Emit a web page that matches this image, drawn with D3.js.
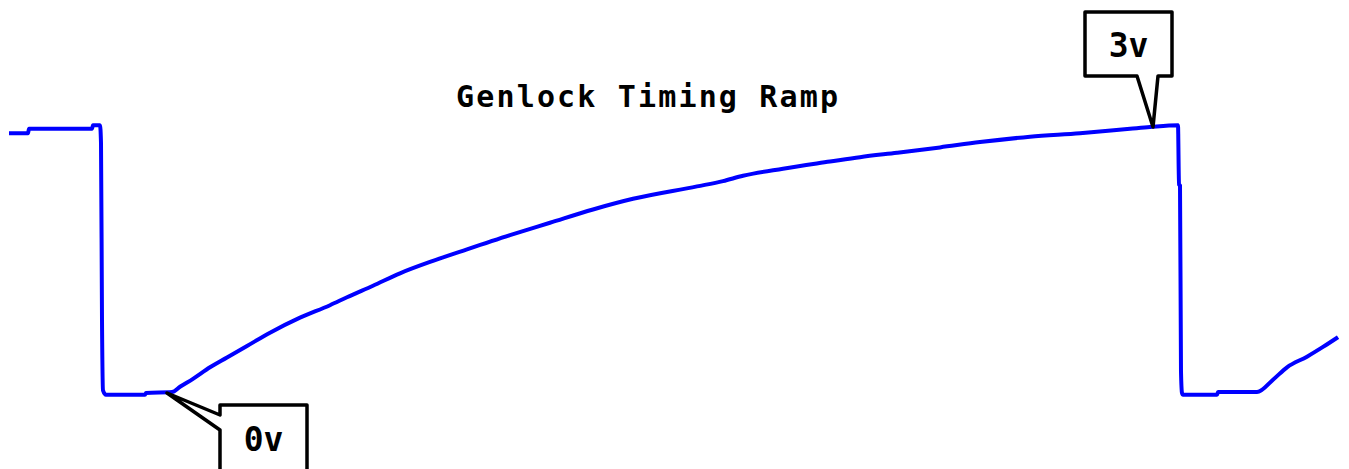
<!doctype html>
<head>
  <meta charset="utf-8">
  <script src="https://cdnjs.cloudflare.com/ajax/libs/d3/7.8.2/d3.min.js"></script>
</head>
<style>
    html, body { margin: 0; padding: 0; background: #ffffff; overflow: hidden; }
    text { font-family: "DejaVu Sans Mono", "Liberation Mono", monospace; font-weight: bold; }
</style>
<body>
    <div id="chart"></div>
    <script>
        // Trace samples (sample index along the sweep) and level in volts
        const sampleTimes = [
            0, 19, 20, 83, 84, 91, 92, 93, 94, 97, 136, 137, 163,
            171, 184, 201, 218, 238, 261, 291, 321, 338, 364, 391, 424, 458, 501,
            541, 584, 624, 688, 714, 734, 774, 821, 851, 888, 931, 971, 1021, 1071,
            1121, 1141, 1169, 1170, 1171, 1172, 1173, 1174, 1208, 1209, 1248,
            1264, 1278, 1298, 1314, 1329
        ];
        const sampleVolts = [
            2.93, 2.93, 2.98, 2.98, 3.02, 3.02, 2.82, 0.82, 0.03, -0.02, -0.02, 0.0, 0.01,
            0.07, 0.16, 0.29, 0.40, 0.53, 0.68, 0.85, 0.99, 1.08, 1.21, 1.35, 1.49, 1.62, 1.78,
            1.92, 2.07, 2.19, 2.33, 2.39, 2.45, 2.53, 2.61, 2.66, 2.71, 2.77, 2.83, 2.89, 2.93,
            2.98, 3.00, 3.02, 2.35, 2.34, 0.24, 0.0, -0.02, -0.02, 0.01, 0.01,
            0.15, 0.29, 0.41, 0.52, 0.63
        ];

        // Callouts: label, sample index and voltage they point to
        const calloutLabels = ['0v', '3v'];
        const calloutTimes = [158, 1144];
        const calloutVolts = [0.0, 3.0];

        const title = 'Genlock Timing Ramp';

        const width = 1349;
        const height = 469;

        const svg = d3.select('#chart')
            .append('svg')
            .attr('width', width)
            .attr('height', height);

        const x = d3.scaleLinear().domain([0, 1330]).range([9, 1339]);
        const y = d3.scaleLinear().domain([0, 3]).range([393, 127]);

        const data = sampleTimes.map((t, i) => ({ t: t, v: sampleVolts[i] }));

        // Scope trace
        const line = d3.line()
            .curve(d3.curveMonotoneX)
            .x((d) => x(d.t))
            .y((d) => y(d.v));

        svg.append('path')
            .datum(data)
            .attr('d', line)
            .attr('fill', 'none')
            .attr('stroke', '#0000ff')
            .attr('stroke-width', 4)
            .attr('stroke-linejoin', 'miter');

        // Title
        svg.append('text')
            .attr('x', 647)
            .attr('y', 107)
            .attr('text-anchor', 'middle')
            .attr('font-size', 30)
            .attr('textLength', 382)
            .attr('lengthAdjust', 'spacing')
            .attr('fill', '#000')
            .text(title);

        // Callout boxes with a pointer to the trace
        const callouts = calloutLabels.map((label, i) => ({
            label: label,
            px: x(calloutTimes[i]),
            py: y(calloutVolts[i])
        }));

        // 0v : box below right, pointer from its left side
        const c0 = callouts[0];
        const b0 = { x: c0.px + 53, y: c0.py + 12, w: 87, h: 70 };
        svg.append('path')
            .attr('d', `M${b0.x},${b0.y} H${b0.x + b0.w} V${b0.y + b0.h} H${b0.x} V${b0.y + 25}
                        L${c0.px},${c0.py} L${b0.x},${b0.y + 10} Z`)
            .attr('fill', '#fff')
            .attr('stroke', '#000')
            .attr('stroke-width', 3.5)
            .attr('stroke-linejoin', 'round');
        svg.append('text')
            .attr('x', b0.x + b0.w / 2)
            .attr('y', b0.y + 46)
            .attr('text-anchor', 'middle')
            .attr('font-size', 33)
            .text(c0.label);

        // 3v : box above left, pointer from its bottom edge
        const c1 = callouts[1];
        const b1 = { x: c1.px - 68, y: c1.py - 115, w: 87, h: 64 };
        svg.append('path')
            .attr('d', `M${b1.x},${b1.y} H${b1.x + b1.w} V${b1.y + b1.h} H${b1.x + 73}
                        L${c1.px},${c1.py} L${b1.x + 52},${b1.y + b1.h} H${b1.x} Z`)
            .attr('fill', '#fff')
            .attr('stroke', '#000')
            .attr('stroke-width', 3.5)
            .attr('stroke-linejoin', 'round');
        svg.append('text')
            .attr('x', b1.x + b1.w / 2)
            .attr('y', b1.y + 45)
            .attr('text-anchor', 'middle')
            .attr('font-size', 33)
            .text(c1.label);
    </script>
</body>
